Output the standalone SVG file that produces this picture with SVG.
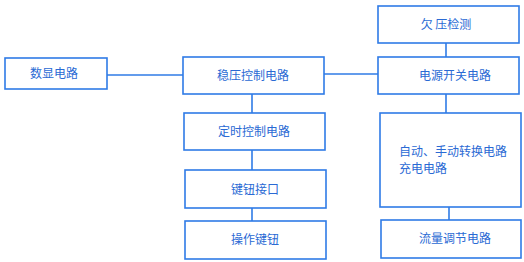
<svg xmlns="http://www.w3.org/2000/svg" width="524" height="262" viewBox="0 0 524 262">
<style>
.box{fill:#ffffff;stroke:#2f7be6;stroke-width:1.6}
.ln{stroke:#2f7be6;stroke-width:1.6;fill:none}
text{font-family:"Noto Sans CJK SC","Noto Sans CJK JP",sans-serif;font-size:12px;fill:#2a6ad4}
.c{text-anchor:middle}
</style>
<rect width="524" height="262" fill="#ffffff"/>
<g id="connectors">
<line class="ln" x1="107" y1="75" x2="183" y2="75"/>
<line class="ln" x1="324" y1="74" x2="378" y2="74"/>
<line class="ln" x1="252" y1="94" x2="252" y2="113"/>
<line class="ln" x1="252" y1="150" x2="252" y2="170"/>
<line class="ln" x1="252" y1="208" x2="252" y2="221"/>
<line class="ln" x1="446" y1="43" x2="446" y2="57"/>
<line class="ln" x1="446" y1="94" x2="446" y2="113"/>
<line class="ln" x1="449" y1="207" x2="449" y2="220"/>
</g>
<g id="shuxian"><rect class="box" x="5" y="58" width="102" height="31"/><text class="c" x="54" y="78">数显电路</text></g>
<g id="wenya"><rect class="box" x="183" y="57" width="141" height="37"/><text class="c" x="253" y="80">稳压控制电路</text></g>
<g id="dingshi"><rect class="box" x="184" y="113" width="141" height="37"/><text class="c" x="254" y="136">定时控制电路</text></g>
<g id="jianniu"><rect class="box" x="185" y="170" width="141" height="38"/><text class="c" x="255" y="194">键钮接口</text></g>
<g id="caozuo"><rect class="box" x="185" y="221" width="141" height="38"/><text class="c" x="255" y="244">操作键钮</text></g>
<g id="qianya"><rect class="box" x="378" y="6" width="141" height="37"/><text class="c" x="446" y="29">欠 压检测</text></g>
<g id="dianyuan"><rect class="box" x="378" y="57" width="141" height="37"/><text class="c" x="455" y="80">电源开关电路</text></g>
<g id="zidong"><rect class="box" x="380" y="113" width="141" height="94"/><text x="399" y="155.5">自动、手动转换电路</text><text x="399" y="173">充电电路</text></g>
<g id="liuliang"><rect class="box" x="381" y="220" width="140" height="38"/><text class="c" x="455" y="243">流量调节电路</text></g>
</svg>
